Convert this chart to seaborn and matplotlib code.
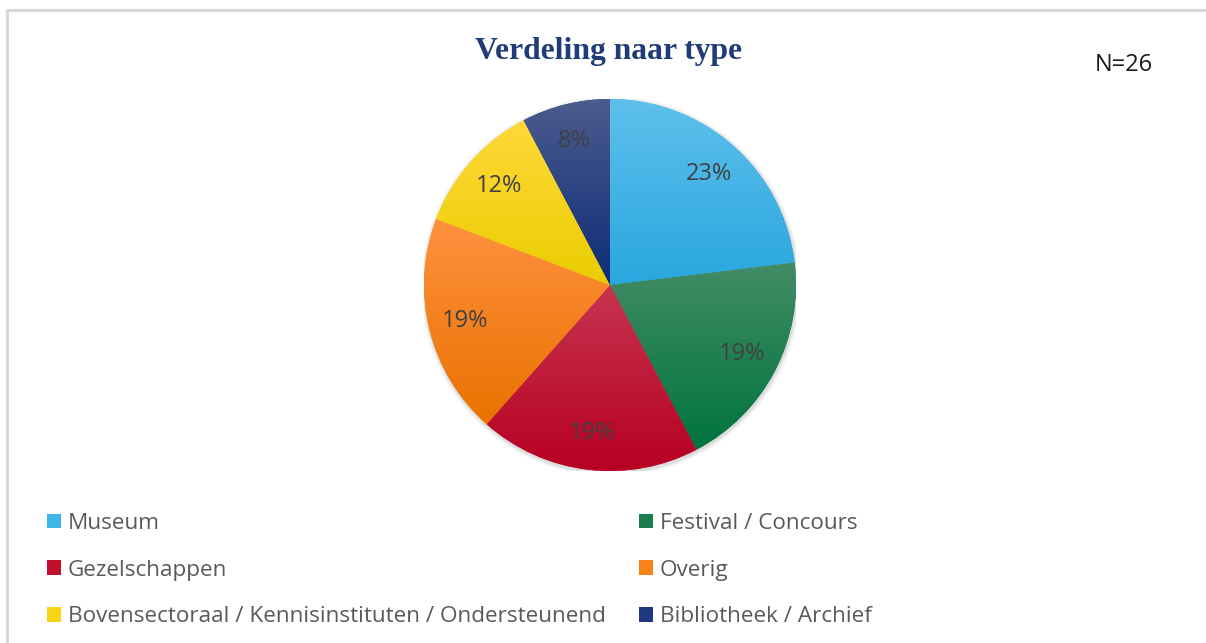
import numpy as np
import matplotlib
matplotlib.use("Agg")
import matplotlib.pyplot as plt
import seaborn as sns
from matplotlib.patches import Rectangle, Patch
from matplotlib.colors import to_rgb

# ---- data ----
categories = ["Museum", "Festival / Concours", "Gezelschappen", "Overig",
              "Bovensectoraal / Kennisinstituten / Ondersteunend",
              "Bibliotheek / Archief"]
counts = [6, 5, 5, 5, 3, 2]
title = "Verdeling naar type"
n_label = "N=26"

# ---- styles ----
top_colors = ["#5EC0EC", "#428C66", "#C63550", "#FF9140", "#FFD83A", "#4C5C8E"]
bot_colors = ["#29A7DF", "#00743E", "#B70023", "#EA7200", "#EACD00", "#0D2C77"]
mid_colors = ["#3DB5E8", "#1A7E4E", "#C0102E", "#F7821A", "#F7D414", "#20397E"]

sns.set_theme(style="white")
plt.rcParams['font.family'] = ['Open Sans', 'DejaVu Sans']

W, H, DPI = 1206, 643, 100
fig = plt.figure(figsize=(W / DPI, H / DPI), dpi=DPI)
fig.patch.set_facecolor("white")

# frame (left/top visible)
fig.patches.append(Rectangle((7 / W, -0.1), 1.2, (643 - 10) / H + 0.1,
                             transform=fig.transFigure, fill=False,
                             edgecolor="#D9D9D9", linewidth=2.2, zorder=0))

cx, cy, r = 610, 285, 186
ax = fig.add_axes([(cx - r) / W, (H - cy - r) / H, 2 * r / W, 2 * r / H])
ax.set_xlim(-1, 1)
ax.set_ylim(-1, 1)
ax.set_aspect("equal")
ax.axis("off")

# soft shadow
for i, a in enumerate([0.05, 0.04, 0.03, 0.02]):
    c = plt.Circle((0.004, -0.008), 1.0 + 0.006 * (i + 1), color="black",
                   alpha=a, lw=0, zorder=0)
    ax.add_patch(c)

wedges, texts, autotexts = ax.pie(
    counts, colors=mid_colors, startangle=90, counterclock=False,
    radius=1.0, autopct="%.0f%%", pctdistance=0.8,
    wedgeprops=dict(linewidth=0),
    textprops=dict(color="#404040", fontsize=17))

# vertical gradients clipped to each wedge
for w, tc, bc in zip(wedges, top_colors, bot_colors):
    w.set_zorder(1)
    ext = w.get_path().get_extents().transformed(w.get_patch_transform())
    y0, y1 = ext.y0, ext.y1
    t = np.linspace(0, 1, 256)[:, None]
    tcol, bcol = np.array(to_rgb(tc)), np.array(to_rgb(bc))
    img = (t[..., None] * tcol + (1 - t[..., None]) * bcol)
    img = np.repeat(img, 2, axis=1)
    im = ax.imshow(img, extent=[-1.05, 1.05, y0, y1], origin="lower",
                   aspect="auto", zorder=2, interpolation="bilinear")
    im.set_clip_path(w)
for t_ in autotexts:
    t_.set_zorder(5)
ax.set_xlim(-1, 1)
ax.set_ylim(-1, 1)

fig.text(609 / W, 1 - 51 / H, title, ha="center", va="center",
         fontsize=22.8, fontweight="bold", color="#1F3B78",
         family=["Liberation Serif", "DejaVu Serif"])
fig.text(1124 / W, 1 - 65 / H, n_label, ha="center", va="center",
         fontsize=17, color="#1A1A1A")

handles = [Patch(facecolor=c, edgecolor="none") for c in mid_colors]
col1 = [0, 2, 4]
col2 = [1, 3, 5]
common = dict(frameon=False, fontsize=16.2, labelcolor="#595959",
              handlelength=0.63, handleheight=0.63, handletextpad=0.3,
              labelspacing=1.14, borderpad=0, borderaxespad=0)
leg1 = fig.legend([handles[i] for i in col1], [categories[i] for i in col1],
                  loc="upper left", bbox_to_anchor=(47 / W, 1 - 513 / H),
                  **common)
leg2 = fig.legend([handles[i] for i in col2], [categories[i] for i in col2],
                  loc="upper left", bbox_to_anchor=(639 / W, 1 - 513 / H),
                  **common)

fig.savefig("out.png", dpi=DPI, facecolor="white")
